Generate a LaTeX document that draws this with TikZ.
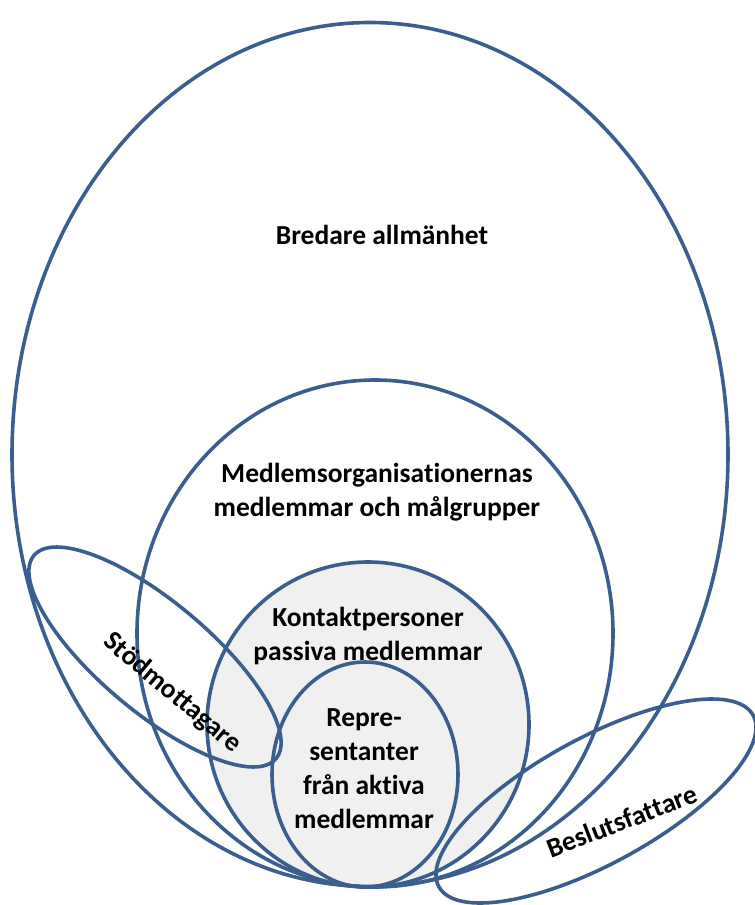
\documentclass[tikz,border=0pt]{standalone}
\usepackage{fontspec}
\setmainfont[Ligatures=NoCommon]{Carlito}
\definecolor{ringblue}{HTML}{3A5F8F}
\definecolor{corefill}{HTML}{F0F0F0}
\begin{document}
\begin{tikzpicture} [x=1pt, y=-1pt, ring/.style={draw=ringblue, line width=3.6pt},
    label/.style={align=center, font=\fontsize{27.5}{34}\selectfont\bfseries}]
    \useasboundingbox (0,0) rectangle (755,905);
    % fill core
    \fill [corefill] (368,724.5) ellipse [x radius=161, y radius=162.5];
    % draw rings
    \draw [ring] (370,454.5) ellipse [x radius=358, y radius=432];
    \draw [ring] (375,633.5) ellipse [x radius=238, y radius=253.5];
    \draw [ring] (368,724.5) ellipse [x radius=161, y radius=162.5];
    \draw [ring] (365,774.5) ellipse [x radius=93, y radius=112.5];
    \draw [ring, rotate around={-40:(155,657)}] (155,657) ellipse [x radius=158, y radius=55];
    \draw [ring, rotate around={28.6:(596,801)}] (596,801) ellipse [x radius=179, y radius=63];
    % place nodes
    \node [label] (bredare) at (382,235) {Bredare allmänhet};
    \node [label] (medlems) at (377,492) {Medlemsorganisationernas\\medlemmar och målgrupper};
    \node [label] (kontakt) at (368,636) {Kontaktpersoner\\passiva medlemmar};
    \node [label] (repre) at (364,769) {Repre-\\sentanter\\från aktiva\\medlemmar};
    \node [label, rotate=-40] (stod) at (172,693) {Stödmottagare};
    \node [label, rotate=21] (beslut) at (622,821) {Beslutsfattare};
  \end{tikzpicture}
\end{document}
